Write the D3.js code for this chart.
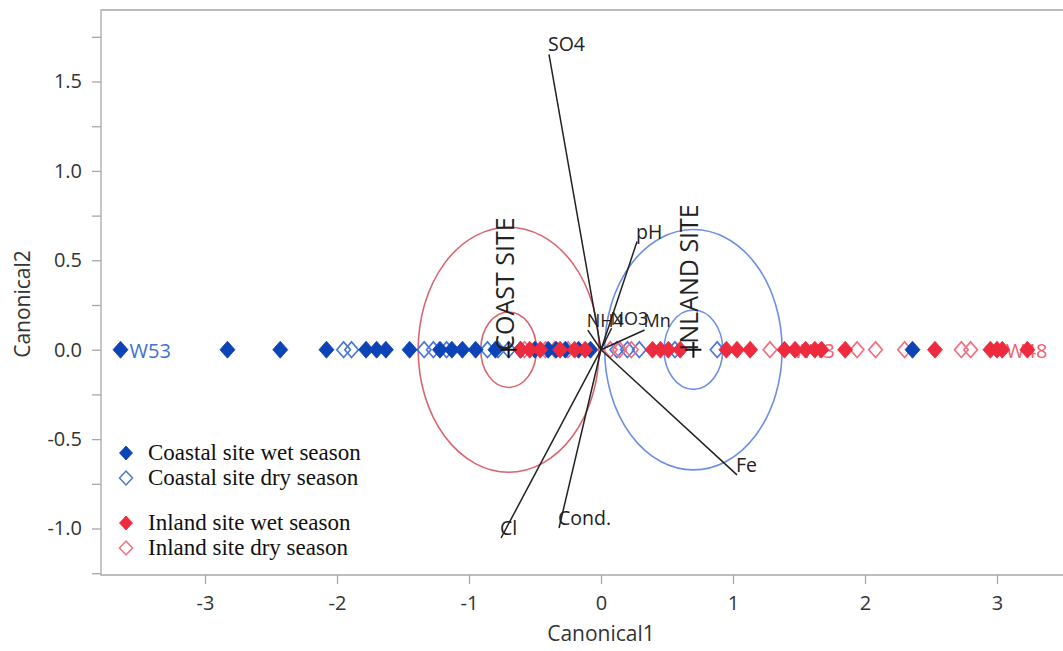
<!DOCTYPE html>
<html><head><meta charset="utf-8">
<script src="https://cdn.jsdelivr.net/npm/d3@7"></script>
<style>body{margin:0;background:#fff}svg{display:block}</style>
</head><body>
<svg id="c" width="1063" height="651"></svg>
<script>
// ---- data (Canonical1 scores; Canonical2 scores are all 0) ----
const coastalWet = [-3.64,-2.83,-2.43,-2.08,-1.78,-1.70,-1.63,-1.45,-1.22,-1.13,-1.05,-0.95,-0.80,-0.61,-0.50,-0.40,-0.34,-0.27,-0.17,-0.08,2.36];
const coastalDry = [-1.95,-1.89,-1.34,-1.27,-1.17,-0.86,-0.78,-0.70,0.12,0.20,0.29,0.56,0.88];
const inlandWet  = [-0.61,-0.54,-0.46,-0.31,-0.20,-0.12,0.39,0.45,0.51,0.60,0.95,1.03,1.13,1.39,1.47,1.55,1.62,1.67,1.85,2.53,2.95,3.00,3.04,3.23];
const inlandDry  = [-0.58,-0.50,-0.42,-0.35,-0.25,0.07,0.14,0.23,1.28,1.94,2.08,2.30,2.73,2.80];
const canonical2Score = 0;

const pointLabels = [
  {name:"W53", c1:-3.64, group:"coast"},
  {name:"W43", c1:1.39, group:"inland"},
  {name:"W48", c1:3.00, group:"inland"}
];

const vectorNames = ["SO4","pH","NH4","NO3","Mn","Fe","Cl","Cond."];
const vectorC1    = [-0.394,0.273,-0.10,0.08,0.33,1.03,-0.757,-0.318];
const vectorC2    = [1.652,0.605,0.11,0.12,0.11,-0.70,-1.053,-0.997];

const groupNames   = ["COAST SITE","INLAND SITE"];
const groupC1      = [-0.70,0.70];
const outerRadius  = [0.685,0.672];
const innerRadius  = [0.211,0.222];

const xTicks = [-3,-2,-1,0,1,2,3];
const yTicks = [-1.0,-0.5,0.0,0.5,1.0,1.5];
const yMinorTicks = [-1.25,-0.75,-0.25,0.25,0.75,1.25,1.75];

const legendLabels = ["Coastal site wet season","Coastal site dry season","Inland site wet season","Inland site dry season"];

// ---- styles ----
const C_BLUE = "#0c43b6", C_BLUE_OPEN = "#4a78d8";
const C_RED = "#ee2a3f", C_RED_OPEN = "#f2707d";
const SANS = "'Open Sans', 'Noto Sans', sans-serif";

const svg = d3.select("#c");
const L = 101, R = 1063, T = 10, B = 575;
const x = d3.scaleLinear().domain([-3.788, 3.5]).range([L, R]);
const y = d3.scaleLinear().domain([-1.26, 1.90]).range([B, T]);

// frame
svg.append("path").attr("d", `M${R+5},${T}H${L}V${B}H${R+5}`)
  .attr("fill","none").attr("stroke","#a8a8a8").attr("stroke-width",1.3);

// axes
const hy = f => (v => f(v).replace("\u2212","-"));
svg.append("g").attr("transform",`translate(0,${B})`)
  .call(d3.axisBottom(x).tickValues(xTicks).tickSize(9).tickPadding(12).tickFormat(hy(d3.format("d"))));
svg.append("g").attr("transform",`translate(${L},0)`)
  .call(d3.axisLeft(y).tickValues(yTicks).tickSize(9).tickPadding(10).tickFormat(hy(d3.format(".1f"))));
svg.append("g").attr("transform",`translate(${L},0)`)
  .call(d3.axisLeft(y).tickValues(yMinorTicks).tickSize(9).tickFormat(""));
svg.selectAll(".domain").remove();
svg.selectAll(".tick line").attr("stroke","#a8a8a8").attr("stroke-width",1.3);
svg.selectAll(".tick text").attr("fill","#333").style("font-family",SANS).style("font-size","20px");

svg.append("text").attr("x", 601).attr("y", 641).attr("text-anchor","middle")
  .style("font-family",SANS).style("font-size","21px").attr("fill","#333").text("Canonical1");
svg.append("text").attr("transform","translate(30,304) rotate(-90)").attr("text-anchor","middle")
  .style("font-family",SANS).style("font-size","21px").attr("fill","#333").text("Canonical2");

// circles (data radius)
const circCol = ["#d9646e","#6d8fe6"];
groupNames.forEach((g,i)=>{
  [outerRadius[i], innerRadius[i]].forEach(r=>{
    const cx = x(groupC1[i]), cy = y(0);
    svg.append("ellipse").attr("cx",cx).attr("cy",cy)
      .attr("rx", x(groupC1[i]+r)-cx).attr("ry", cy - y(r))
      .attr("fill","none").attr("stroke",circCol[i]).attr("stroke-width",1.6);
  });
});

// point labels (under points)
pointLabels.forEach(p=>{
  svg.append("text").attr("x", x(p.c1)+9).attr("y", y(canonical2Score)+8)
    .style("font-family",SANS).style("font-size","20px")
    .attr("fill", p.group==="coast" ? "#3d6fd6" : "#f0606e").text(p.name);
});

// diamonds
const diamond = (w,h)=>`M0,${-h}L${w},0L0,${h}L${-w},0Z`;
function drawSeries(vals, fill, stroke){
  svg.append("g").selectAll("path").data(vals).join("path")
    .attr("transform", d=>`translate(${x(d)},${y(canonical2Score)})`)
    .attr("d", fill ? diamond(7.5,8.5) : diamond(6.8,7.8))
    .attr("fill", fill || "none").attr("stroke", stroke).attr("stroke-width", fill?0.8:1.7);
}
drawSeries(coastalDry, null, C_BLUE_OPEN);
drawSeries(inlandDry, null, C_RED_OPEN);
drawSeries(coastalWet, C_BLUE, C_BLUE);
drawSeries(inlandWet, C_RED, C_RED);

// biplot rays
vectorNames.forEach((n,i)=>{
  svg.append("line").attr("x1",x(0)).attr("y1",y(0)).attr("x2",x(vectorC1[i])).attr("y2",y(vectorC2[i]))
    .attr("stroke","#222").attr("stroke-width",1.5);
});
const smallVec = ["NH4","NO3","Mn"];
vectorNames.forEach((n,i)=>{
  svg.append("text").attr("x",x(vectorC1[i])-1).attr("y",y(vectorC2[i])-3)
    .style("font-family",SANS).style("font-size", smallVec.includes(n) ? "18px" : "19.5px")
    .attr("fill","#222").text(n);
});

// group centres and labels
groupNames.forEach((g,i)=>{
  const cx = x(groupC1[i]), cy = y(0);
  svg.append("path").attr("d",`M${cx-8},${cy}H${cx+8}M${cx},${cy-8}V${cy+8}`)
    .attr("stroke","#111").attr("stroke-width",2);
  svg.append("text").attr("transform",`translate(${cx+5},${cy+1}) rotate(-90)`)
    .style("font-family",SANS).style("font-size","25px").attr("fill","#222").text(g);
});

// legend
const legY = [453,478,523,548];
const legFill = [C_BLUE,null,C_RED,null];
const legStroke = [C_BLUE,C_BLUE_OPEN,C_RED,C_RED_OPEN];
legendLabels.forEach((t,i)=>{
  svg.append("path").attr("transform",`translate(126,${legY[i]})`)
    .attr("d", diamond(6.5,7))
    .attr("fill", legFill[i] || "none").attr("stroke", legStroke[i]).attr("stroke-width", legFill[i]?0.8:1.5);
  svg.append("text").attr("x",148).attr("y",legY[i]+7)
    .style("font-family","'Liberation Serif','Times New Roman',serif").style("font-size","23px")
    .attr("fill","#111").text(t);
});
</script>
</body></html>
